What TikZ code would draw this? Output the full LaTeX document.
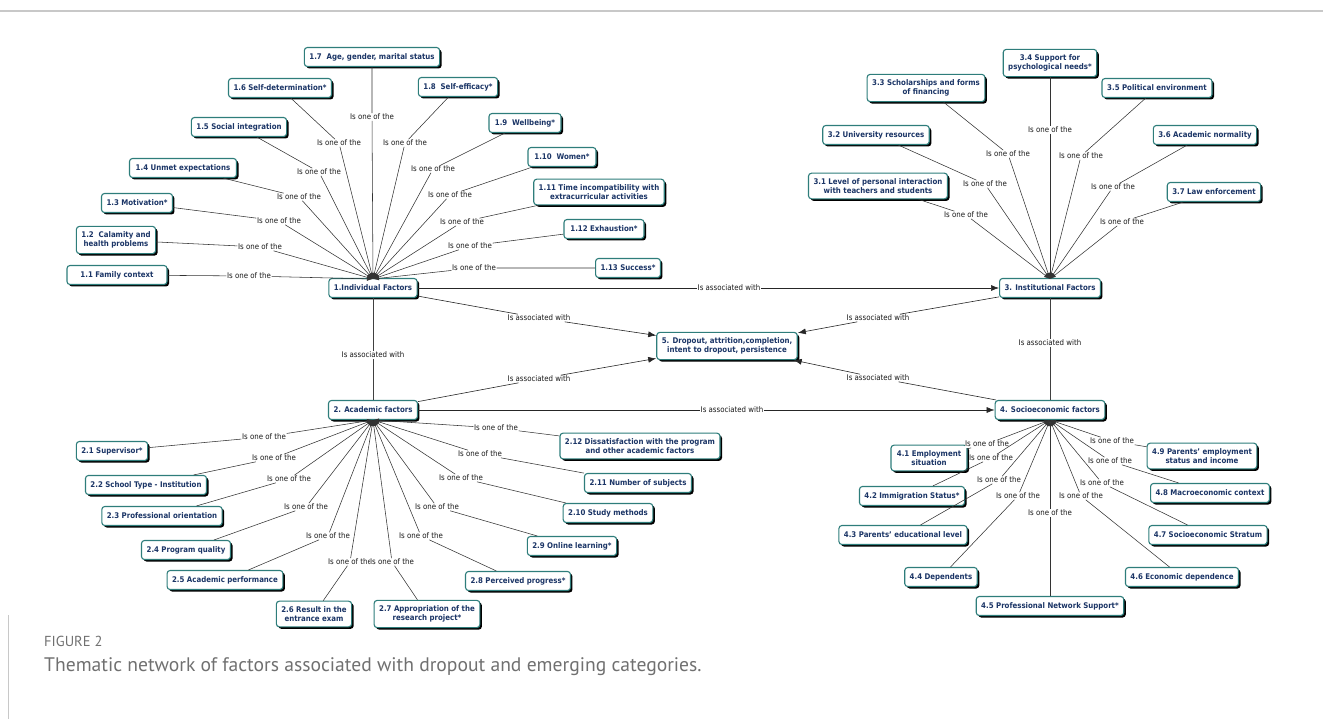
\documentclass[tikz,border=0pt]{standalone}
\usepackage{fontspec}
\setmainfont{DejaVu Sans Condensed}
\newfontfamily\capfont{PT Sans}
\usetikzlibrary{shadows,arrows.meta}
\definecolor{boxteal}{HTML}{2E7D7B}
\definecolor{boxnavy}{HTML}{1B3566}
\definecolor{capgray}{HTML}{707070}
\definecolor{rulegray}{HTML}{C8C8C8}
\begin{document}
\begin{tikzpicture}[x=1pt, y=-1pt,
	box/.style={draw=boxteal, line width=1.1pt, fill=white, rounded corners=3pt, text=boxnavy,
		font=\fontsize{7.8}{9.6}\selectfont\bfseries, align=center, inner xsep=5pt, inner ysep=5pt,
		minimum height=19pt, drop shadow={shadow xshift=2pt, shadow yshift=-2pt, fill=black, opacity=1}},
	lab/.style={fill=white, inner sep=0.6pt, text=black!90, font=\fontsize{7.8}{8}\selectfont},
	spoke/.style={draw=black!80, line width=0.55pt, -{Latex[length=6pt,width=4pt]}},
	assoc/.style={draw=black!85, line width=0.6pt, -{Latex[length=8pt,width=6pt]}},
	plain/.style={draw=black!75, line width=0.6pt}]
	\useasboundingbox (0,0) rectangle (1323,719);
	\draw[rulegray, line width=2pt] (0,11) -- (1323,11);
	\draw[rulegray, line width=1pt] (8,615) -- (8,719);
	
	% main factors
	\node[box, minimum width=87pt] (ind) at (373,288) {1.Individual Factors};
	\node[box, minimum width=87pt] (acad) at (373,410) {2. Academic factors};
	\node[box, minimum width=98pt] (inst) at (1050,288) {3. Institutional Factors};
	\node[box, minimum width=107pt] (soc) at (1050,410) {4. Socioeconomic factors};
	\node[box, minimum width=137pt] (drop) at (727,346) {5. Dropout, attrition,completion,\\intent to dropout, persistence};
	\coordinate (h1) at (373,279);
	\coordinate (h2) at (373,420);
	\coordinate (h3) at (1050,279);
	\coordinate (h4) at (1050,420);
	
	% 1. individual
	\node[box, minimum width=100pt] (i1) at (117,275) {1.1 Family context};
	\node[box, minimum width=78pt] (i2) at (116,240) {1.2\ \ Calamity and\\health problems};
	\node[box, minimum width=70pt] (i3) at (137,203) {1.3 Motivation*};
	\node[box, minimum width=107pt] (i4) at (183,168) {1.4 Unmet expectations};
	\node[box, minimum width=92pt] (i5) at (239,127) {1.5 Social integration};
	\node[box, minimum width=103pt] (i6) at (280,88) {1.6 Self-determination*};
	\node[box, minimum width=130pt] (i7) at (372,57) {1.7\ \ Age, gender, marital status};
	\node[box, minimum width=79pt] (i8) at (458,87) {1.8\ \ Self-efficacy*};
	\node[box, minimum width=72pt] (i9) at (525,123) {1.9\ \ Wellbeing*};
	\node[box, minimum width=68pt] (i10) at (562,157) {1.10\ \ Women*};
	\node[box, minimum width=130pt] (i11) at (599,192) {1.11 Time incompatibility with\\extracurricular activities};
	\node[box, minimum width=80pt] (i12) at (604,229) {1.12 Exhaustion*};
	\node[box, minimum width=62pt] (i13) at (628,268) {1.13 Success*};
	\node[lab] (li1) at (249,276) {Is one of the};
	\node[lab] (li2) at (260,247) {Is one of the};
	\node[lab] (li3) at (279,221) {Is one of the};
	\node[lab] (li4) at (299,197) {Is one of the};
	\node[lab] (li5) at (319,172) {Is one of the};
	\node[lab] (li6) at (339,143) {Is one of the};
	\node[lab] (li7) at (372,117) {Is one of the};
	\node[lab] (li8) at (405,143) {Is one of the};
	\node[lab] (li9) at (433,169) {Is one of the};
	\node[lab] (li10) at (450,195) {Is one of the};
	\node[lab] (li11) at (462,222) {Is one of the};
	\node[lab] (li12) at (470,246) {Is one of the};
	\node[lab] (li13) at (474,268) {Is one of the};
	\draw[spoke] (i1) -- (li1) -- (h1);
	\draw[spoke] (i2) -- (li2) -- (h1);
	\draw[spoke] (i3) -- (li3) -- (h1);
	\draw[spoke] (i4) -- (li4) -- (h1);
	\draw[spoke] (i5) -- (li5) -- (h1);
	\draw[spoke] (i6) -- (li6) -- (h1);
	\draw[spoke] (i7) -- (li7) -- (h1);
	\draw[spoke] (i8) -- (li8) -- (h1);
	\draw[spoke] (i9) -- (li9) -- (h1);
	\draw[spoke] (i10) -- (li10) -- (h1);
	\draw[spoke] (i11) -- (li11) -- (h1);
	\draw[spoke] (i12) -- (li12) -- (h1);
	\draw[spoke] (i13) -- (li13) -- (h1);
	
	% 2. academic
	\node[box, minimum width=70pt] (a1) at (112,451) {2.1 Supervisor*};
	\node[box, minimum width=119pt] (a2) at (146,485) {2.2 School Type - Institution};
	\node[box, minimum width=117pt] (a3) at (162,516) {2.3 Professional orientation};
	\node[box, minimum width=89pt] (a4) at (186,550) {2.4 Program quality};
	\node[box, minimum width=115pt] (a5) at (225,580) {2.5 Academic performance};
	\node[box, minimum width=75pt] (a6) at (314,614) {2.6 Result in the\\entrance exam};
	\node[box, minimum width=102pt] (a7) at (427,614) {2.7 Appropriation of the\\research project*};
	\node[box, minimum width=101pt] (a8) at (518,581) {2.8 Perceived progress*};
	\node[box, minimum width=88pt] (a9) at (572,546) {2.9 Online learning*};
	\node[box, minimum width=88pt] (a10) at (608,513) {2.10 Study methods};
	\node[box, minimum width=105pt] (a11) at (638,483) {2.11 Number of subjects};
	\node[box, minimum width=153pt] (a12) at (640,446) {2.12 Dissatisfaction with the program\\and other academic factors};
	\node[lab] (la1) at (264,437) {Is one of the};
	\node[lab] (la2) at (274,458) {Is one of the};
	\node[lab] (la3) at (289,479) {Is one of the};
	\node[lab] (la4) at (306,507) {Is one of the};
	\node[lab] (la5) at (328,536) {Is one of the};
	\node[lab] (la6) at (350,562) {Is one of the};
	\node[lab] (la7) at (392,562) {Is one of the};
	\node[lab] (la8) at (421,536) {Is one of the};
	\node[lab] (la9) at (437,507) {Is one of the};
	\node[lab] (la10) at (461,478) {Is one of the};
	\node[lab] (la11) at (480,454) {Is one of the};
	\node[lab] (la12) at (496,428) {Is one of the};
	\draw[spoke] (a1) -- (la1) -- (h2);
	\draw[spoke] (a2) -- (la2) -- (h2);
	\draw[spoke] (a3) -- (la3) -- (h2);
	\draw[spoke] (a4) -- (la4) -- (h2);
	\draw[spoke] (a5) -- (la5) -- (h2);
	\draw[spoke] (a6) -- (la6) -- (h2);
	\draw[spoke] (a7) -- (la7) -- (h2);
	\draw[spoke] (a8) -- (la8) -- (h2);
	\draw[spoke] (a9) -- (la9) -- (h2);
	\draw[spoke] (a10) -- (la10) -- (h2);
	\draw[spoke] (a11) -- (la11) -- (h2);
	\draw[spoke] (a12) -- (la12) -- (h2);
	
	% 3. institutional
	\node[box, minimum width=139pt] (n1) at (878,186) {3.1 Level of personal interaction\\with teachers and students};
	\node[box, minimum width=104pt] (n2) at (876,135) {3.2 University resources};
	\node[box, minimum width=115pt] (n3) at (926,88) {3.3 Scholarships and forms\\of financing};
	\node[box, minimum width=91pt] (n4) at (1050,63) {3.4 Support for\\psychological needs*};
	\node[box, minimum width=110pt] (n5) at (1157,88) {3.5 Political environment};
	\node[box, minimum width=103pt] (n6) at (1205,135) {3.6 Academic normality};
	\node[box, minimum width=85pt] (n7) at (1214,192) {3.7 Law enforcement};
	\node[lab] (ln1) at (966,215) {Is one of the};
	\node[lab] (ln2) at (985,184) {Is one of the};
	\node[lab] (ln3) at (1008,154) {Is one of the};
	\node[lab] (ln4) at (1050,130) {Is one of the};
	\node[lab] (ln5) at (1081,156) {Is one of the};
	\node[lab] (ln6) at (1113,187) {Is one of the};
	\node[lab] (ln7) at (1122,222) {Is one of the};
	\draw[spoke] (n1) -- (ln1) -- (h3);
	\draw[spoke] (n2) -- (ln2) -- (h3);
	\draw[spoke] (n3) -- (ln3) -- (h3);
	\draw[spoke] (n4) -- (ln4) -- (h3);
	\draw[spoke] (n5) -- (ln5) -- (h3);
	\draw[spoke] (n6) -- (ln6) -- (h3);
	\draw[spoke] (n7) -- (ln7) -- (h3);
	
	% 4. socioeconomic
	\node[box, minimum width=76pt] (s1) at (929,458) {4.1 Employment\\situation};
	\node[box, minimum width=100pt] (s2) at (912,496) {4.2 Immigration Status*};
	\node[box, minimum width=126pt] (s3) at (903,535) {4.3 Parents' educational level};
	\node[box, minimum width=71pt] (s4) at (941,577) {4.4 Dependents};
	\node[box, minimum width=144pt] (s5) at (1050,606) {4.5 Professional Network Support*};
	\node[box, minimum width=112pt] (s6) at (1182,577) {4.6 Economic dependence};
	\node[box, minimum width=110pt] (s7) at (1208,535) {4.7 Socioeconomic Stratum};
	\node[box, minimum width=104pt] (s8) at (1210,493) {4.8 Macroeconomic context};
	\node[box, minimum width=109pt] (s9) at (1202,456) {4.9 Parents' employment\\status and income};
	\node[lab] (ls1) at (987,444) {Is one of the};
	\node[lab] (ls2) at (991,458) {Is one of the};
	\node[lab] (ls3) at (999,480) {Is one of the};
	\node[lab] (ls4) at (1018,496) {Is one of the};
	\node[lab] (ls5) at (1050,513) {Is one of the};
	\node[lab] (ls6) at (1081,496) {Is one of the};
	\node[lab] (ls7) at (1102,483) {Is one of the};
	\node[lab] (ls8) at (1110,461) {Is one of the};
	\node[lab] (ls9) at (1112,441) {Is one of the};
	\draw[spoke] (s1) -- (ls1) -- (h4);
	\draw[spoke] (s2) -- (ls2) -- (h4);
	\draw[spoke] (s3) -- (ls3) -- (h4);
	\draw[spoke] (s4) -- (ls4) -- (h4);
	\draw[spoke] (s5) -- (ls5) -- (h4);
	\draw[spoke] (s6) -- (ls6) -- (h4);
	\draw[spoke] (s7) -- (ls7) -- (h4);
	\draw[spoke] (s8) -- (ls8) -- (h4);
	\draw[spoke] (s9) -- (ls9) -- (h4);
	
	% associations
	\node[lab] (e13) at (729,288) {Is associated with};
	\node[lab] (e15) at (539,318) {Is associated with};
	\node[lab] (e12) at (373,355) {Is associated with};
	\node[lab] (e25) at (539,379) {Is associated with};
	\node[lab] (e24) at (732,410) {Is associated with};
	\node[lab] (e35) at (878,318) {Is associated with};
	\node[lab] (e45) at (878,378) {Is associated with};
	\node[lab] (e34) at (1050,343) {Is associated with};
	\draw[assoc] (ind) -- (e13) -- (inst);
	\draw[assoc] (ind) -- (e15) -- (drop);
	\draw[plain] (ind) -- (e12) -- (acad);
	\draw[assoc] (acad) -- (e25) -- (drop);
	\draw[assoc] (acad) -- (e24) -- (soc);
	\draw[assoc] (inst) -- (e35) -- (drop);
	\draw[assoc] (soc) -- (e45) -- (drop);
	\draw[plain] (inst) -- (e34) -- (soc);
	
	% caption
	\node[anchor=base west, inner sep=0pt, text=capgray, font=\capfont\fontsize{14.5}{16}\selectfont] (fig) at (44,646) {FIGURE 2};
	\node[anchor=base west, inner sep=0pt, text=capgray, font=\capfont\fontsize{19.6}{22}\selectfont] (cap) at (44,671) {Thematic network of factors associated with dropout and emerging categories.};
\end{tikzpicture}
\end{document}
